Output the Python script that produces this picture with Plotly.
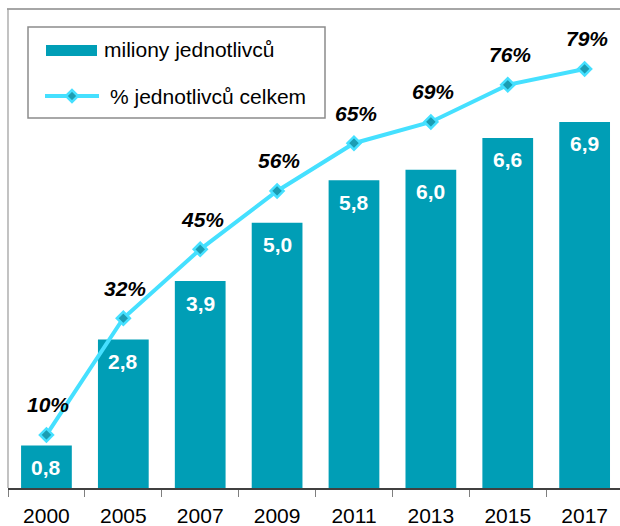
import plotly.graph_objects as go

years = ["2000", "2005", "2007", "2009", "2011", "2013", "2015", "2017"]
millions = [0.8, 2.8, 3.9, 5.0, 5.8, 6.0, 6.6, 6.9]
millions_labels = ["0,8", "2,8", "3,9", "5,0", "5,8", "6,0", "6,6", "6,9"]
percent = [10, 32, 45, 56, 65, 69, 76, 79]
percent_labels = ["10%", "32%", "45%", "56%", "65%", "69%", "76%", "79%"]
legend_names = ["miliony jednotlivců", "% jednotlivců celkem"]

BAR = "#009EB6"
LINE = "#45E0FF"
FONT = "Liberation Sans, Arial, sans-serif"

W, H = 620, 526
L, R, T, B = 8, 0, 9, 38
PW, PH = W - L - R, H - T - B


def px(x):
    return (x - L) / PW


def py(y):
    return (H - B - y) / PH


fig = go.Figure()
fig.add_trace(go.Bar(x=years, y=millions, marker=dict(color=BAR, line=dict(width=0)),
                     name=legend_names[0], showlegend=False, yaxis="y"))
fig.add_trace(go.Scatter(x=years, y=percent, mode="lines+markers", name=legend_names[1],
                         line=dict(color=LINE, width=4),
                         marker=dict(symbol="diamond", size=10, color="#1B9DB3",
                                     line=dict(color=LINE, width=2.5)),
                         showlegend=False, yaxis="y2"))

annotations = []
for i, (v, t) in enumerate(zip(millions, millions_labels)):
    annotations.append(dict(x=i, y=v, xref="x", yref="y", text="<b>%s</b>" % t, showarrow=False,
                            yanchor="middle", yshift=-22,
                            font=dict(family=FONT, size=21, color="white")))
for i, (v, t) in enumerate(zip(percent, percent_labels)):
    annotations.append(dict(x=i, y=v, xref="x", yref="y2", text="<b><i>%s</i></b>" % t,
                            showarrow=False, yanchor="middle", yshift=30, xshift=2,
                            font=dict(family=FONT, size=21, color="black")))

# legend texts
annotations.append(dict(x=px(102), y=py(50), xref="paper", yref="paper", text=legend_names[0],
                        showarrow=False, xanchor="left", yanchor="middle",
                        font=dict(family=FONT, size=21, color="black")))
annotations.append(dict(x=px(108), y=py(96), xref="paper", yref="paper", text=legend_names[1],
                        showarrow=False, xanchor="left", yanchor="middle",
                        font=dict(family=FONT, size=21, color="black")))

shapes = [
    # outer frame top & left
    dict(type="line", xref="paper", yref="paper", x0=px(7), x1=1, y0=py(9), y1=py(9),
         line=dict(color="#A6A6A6", width=2)),
    dict(type="line", xref="paper", yref="paper", x0=px(8), x1=px(8), y0=py(9), y1=0,
         line=dict(color="#9A9A9A", width=1.2)),
    # legend box
    dict(type="rect", xref="paper", yref="paper", x0=px(28), x1=px(325), y0=py(27), y1=py(118),
         line=dict(color="#8C8C8C", width=1.5), fillcolor="white"),
    dict(type="rect", xref="paper", yref="paper", x0=px(46), x1=px(97), y0=py(45), y1=py(56),
         line=dict(width=0), fillcolor=BAR),
    dict(type="line", xref="paper", yref="paper", x0=px(45), x1=px(99), y0=py(96), y1=py(96),
         line=dict(color=LINE, width=4)),
]
cx, cy = 72, 96
d = 6
path = "M %f,%f L %f,%f L %f,%f L %f,%f Z" % (
    px(cx - d), py(cy), px(cx), py(cy - d), px(cx + d), py(cy), px(cx), py(cy + d))
shapes.append(dict(type="path", xref="paper", yref="paper", path=path,
                   fillcolor="#1B9DB3", line=dict(color=LINE, width=2.5)))

fig.update_layout(
    width=W, height=H,
    margin=dict(l=L, r=R, t=T, b=B),
    paper_bgcolor="white", plot_bgcolor="white",
    bargap=0.34,
    showlegend=False,
    xaxis=dict(type="category", range=[-0.5, 7.46], tickson="boundaries",
               ticks="outside", ticklen=7, tickcolor="#7F7F7F", tickwidth=1,
               showline=True, linecolor="#404040", linewidth=1.5,
               showgrid=False, zeroline=False,
               tickfont=dict(family=FONT, size=21, color="black"),
               ticklabelstandoff=8),
    yaxis=dict(range=[0, 9.03], visible=False, showgrid=False, fixedrange=True),
    yaxis2=dict(range=[0, 90.3], overlaying="y", visible=False, showgrid=False),
    annotations=annotations,
    shapes=shapes,
)

fig.write_html("out.html", config={"displayModeBar": False},
               post_script="document.body.style.margin='0';document.body.style.padding='0';")
